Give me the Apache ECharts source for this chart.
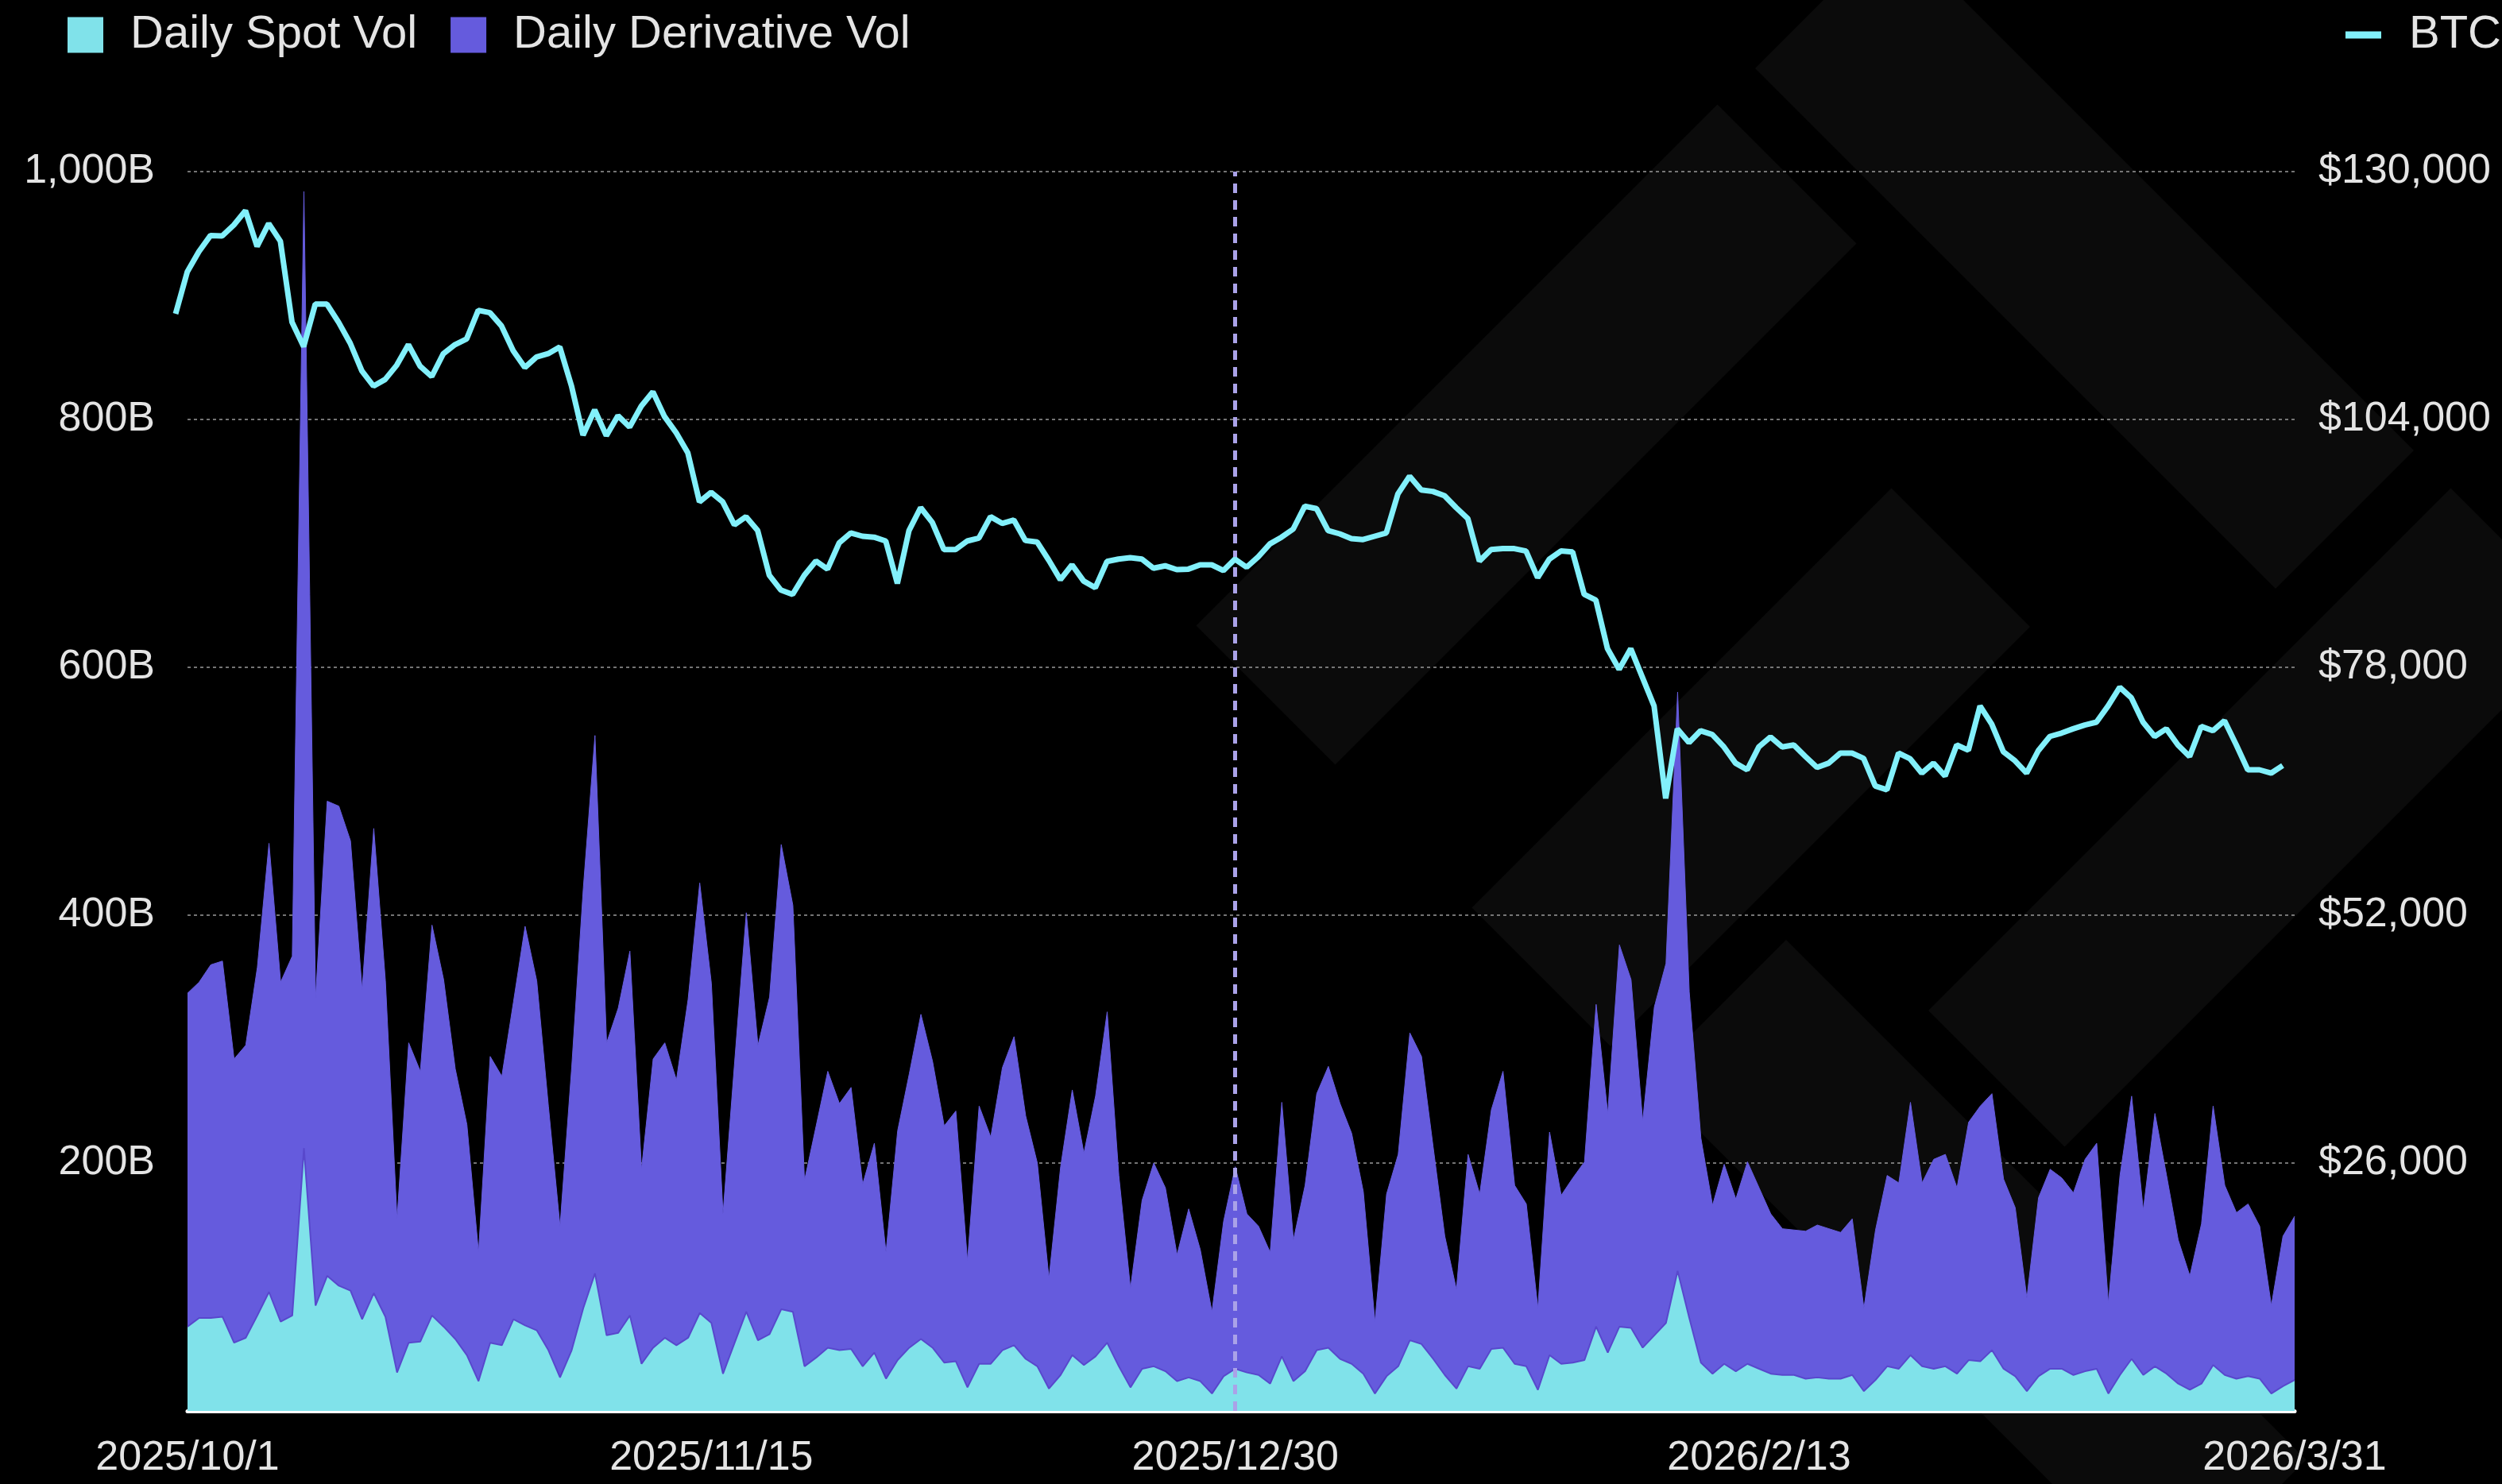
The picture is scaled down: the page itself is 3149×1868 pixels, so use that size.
<!DOCTYPE html>
<html>
<head>
<meta charset="utf-8">
<script src="https://cdn.jsdelivr.net/npm/echarts@6.0.0/dist/echarts.min.js"></script>
<style>
  html, body { margin: 0; padding: 0; background: #000; }
  #chart { width: 3149px; height: 1868px; }
</style>
</head>
<body>
<div id="chart"></div>
<script>
// daily volume in billions, one value per day from 2025/10/1 to 2026/3/31
const volStart = '2025/10/1';
const spotVol = [
  68, 75, 75, 76, 55, 59, 77, 96, 72, 77,
  212, 85, 109, 101, 97, 74, 95, 76, 31, 55,
  56, 77, 68, 58, 45, 24, 55, 53, 74, 69,
  65, 49, 27, 49, 83, 111, 61, 63, 77, 38,
  51, 59, 53, 59, 79, 71, 30, 55, 80, 57,
  62, 82, 80, 36, 43, 51, 49, 50, 36, 47,
  26, 41, 51, 58, 51, 39, 40, 19, 38, 38,
  49, 53, 42, 36, 18, 29, 45, 37, 44, 55,
  36, 19, 34, 36, 32, 24, 27, 24, 14, 28,
  34, 31, 29, 22, 44, 24, 32, 49, 51, 42,
  38, 30, 14, 28, 36, 57, 54, 42, 29, 18,
  36, 34, 50, 51, 38, 36, 17, 45, 38, 39,
  41, 68, 47, 68, 67, 51, 61, 71, 113, 75,
  39, 30, 38, 32, 38, 34, 30, 29, 29, 26,
  27, 26, 26, 29, 16, 25, 36, 34, 45, 36,
  34, 36, 30, 41, 40, 49, 34, 28, 16, 28,
  34, 34, 29, 32, 34, 14, 29, 42, 29, 36,
  30, 22, 17, 22, 37, 29, 26, 28, 26, 14,
  20, 25
];
const derivVol = [
  269, 271, 285, 287, 229, 236, 281, 362, 274, 290,
  772, 248, 383, 387, 363, 266, 375, 271, 124, 242,
  218, 315, 280, 218, 186, 104, 231, 217, 256, 322,
  282, 197, 122, 228, 339, 434, 236, 262, 294, 157,
  233, 238, 214, 273, 347, 274, 129, 227, 322, 238,
  272, 375, 328, 150, 187, 223, 199, 211, 147, 169,
  102, 185, 221, 262, 231, 191, 202, 102, 208, 183,
  228, 249, 196, 164, 89, 168, 214, 171, 210, 267,
  154, 80, 136, 164, 148, 102, 136, 106, 66, 125,
  163, 128, 120, 106, 205, 114, 150, 207, 227, 206,
  186, 147, 58, 147, 171, 248, 232, 171, 112, 80,
  171, 141, 193, 223, 144, 131, 66, 180, 136, 149,
  160, 260, 193, 308, 281, 183, 265, 290, 467, 263,
  181, 136, 161, 139, 163, 146, 129, 118, 117, 119,
  123, 121, 118, 126, 67, 121, 154, 150, 204, 148,
  169, 171, 150, 192, 206, 207, 153, 136, 75, 144,
  161, 154, 147, 171, 182, 73, 161, 212, 133, 204,
  160, 116, 92, 129, 209, 153, 134, 139, 123, 71,
  121, 132
];

// BTC daily close, one value per day from 2025/9/30 to 2026/3/30
const btcStart = '2025/9/30';
const btcPrice = [
  115080, 119470, 121600, 123300, 123250, 124400, 125900, 122150, 124550, 122700,
  114200, 111650, 116100, 116100, 114200, 112000, 109100, 107500, 108200, 109700,
  111850, 109600, 108500, 110900, 111850, 112450, 115450, 115200, 113800, 111200,
  109450, 110550, 110900, 111600, 107550, 102350, 105000, 102300, 104400, 103200,
  105400, 106900, 104300, 102600, 100500, 95350, 96350, 95350, 92950, 93800,
  92350, 87650, 86100, 85650, 87650, 89150, 88300, 91050, 92100, 91750,
  91650, 91250, 86800, 92350, 94750, 93200, 90350, 90350, 91250, 91550,
  93800, 93100, 93450, 91300, 91150, 89250, 87200, 88750, 87050, 86350,
  89100, 89350, 89500, 89350, 88400, 88650, 88250, 88300, 88750, 88750,
  88150, 89350, 88500, 89600, 90950, 91650, 92500, 94900, 94650, 92350,
  92000, 91500, 91400, 91750, 92100, 96200, 98050, 96600, 96450, 96000,
  94750, 93600, 89150, 90350, 90450, 90450, 90200, 87400, 89350, 90200,
  90100, 85650, 85050, 79950, 77800, 79950, 76950, 73950, 64250, 71550,
  70100, 71350, 70950, 69650, 67950, 67250, 69650, 70700, 69650, 69850,
  68650, 67500, 67950, 69000, 69000, 68450, 65550, 65150, 69000, 68400,
  66900, 67950, 66600, 69850, 69300, 73950, 72050, 69150, 68200, 66900,
  69250, 70750, 71100, 71550, 71950, 72250, 73950, 75900, 74800, 72250,
  70750, 71550, 69850, 68650, 71800, 71350, 72400, 69900, 67250, 67250,
  66900, 67700
];

const xLabels = ['2025/10/1', '2025/11/15', '2025/12/30', '2026/2/13', '2026/3/31'];
const markDate = '2025/12/30';

const DAY = 86400000;
function dateList(start, n) {
  const p = start.split('/').map(Number);
  const t = Date.UTC(p[0], p[1] - 1, p[2]);
  const out = [];
  for (let i = 0; i < n; i++) {
    const d = new Date(t + i * DAY);
    out.push(d.getUTCFullYear() + '/' + (d.getUTCMonth() + 1) + '/' + d.getUTCDate());
  }
  return out;
}
const volDates = dateList(volStart, spotVol.length);
const btcDates = dateList(btcStart, btcPrice.length);

// faint logo watermark, bands at 45 degrees (u = x + y, v = x - y)
function band(u1, u2, v1, v2) {
  return {
    type: 'polygon', silent: true, z: -100,
    shape: { points: [
      [(u1 + v1) / 2, (u1 - v1) / 2], [(u1 + v2) / 2, (u1 - v2) / 2],
      [(u2 + v2) / 2, (u2 - v2) / 2], [(u2 + v1) / 2, (u2 - v1) / 2]
    ] },
    style: { fill: '#0b0b0b' }
  };
}

const FONT = 'Liberation Sans, Arial, sans-serif';
const TXT = '#e4e4e4';

const chart = echarts.init(document.getElementById('chart'));
chart.setOption({
  backgroundColor: '#000',
  animation: false,
  textStyle: { fontFamily: FONT },
  graphic: { elements: [
    band(2295, 3605, 2123, 2471),
    band(2293, 2643, 718, 2030),
    band(2995, 3344, 710, 1766),
    band(3431, 4740, 715, 1065),
    band(3699, 4042, 1155, 2470)
  ] },
  legend: [
    {
      data: ['Daily Spot Vol', 'Daily Derivative Vol'],
      left: 80, top: 10,
      icon: 'rect', itemWidth: 45, itemHeight: 45, itemGap: 42,
      textStyle: { color: TXT, fontSize: 58, fontFamily: FONT, padding: [0, 0, 0, 29] }
    },
    {
      data: ['BTC'],
      left: 2947, top: 10,
      icon: 'rect', itemWidth: 45, itemHeight: 9,
      textStyle: { color: TXT, fontSize: 58, fontFamily: FONT, padding: [0, 0, 0, 30] }
    }
  ],
  // volumes on grid 0; BTC on grid 1, which is shifted one day to the left
  grid: [
    { left: 236, right: 261, top: 216, bottom: 92 },
    { left: 221, right: 276, top: 216, bottom: 92 }
  ],
  xAxis: [
    {
      type: 'category', data: volDates, boundaryGap: false,
      axisLine: { show: true, onZero: false, lineStyle: { color: '#fff', width: 5 } },
      axisTick: { show: false },
      splitLine: { show: false },
      axisLabel: {
        interval: (idx, val) => xLabels.indexOf(val) >= 0,
        color: TXT, fontSize: 52, margin: 34
      }
    },
    { type: 'category', gridIndex: 1, data: btcDates, boundaryGap: false, show: false }
  ],
  yAxis: [
    {
      type: 'value', min: 0, max: 1000, interval: 200,
      axisLine: { show: false }, axisTick: { show: false },
      splitLine: { lineStyle: { color: '#9a9a9a', type: [4, 4], width: 1.5 } },
      axisLabel: {
        formatter: v => v === 0 ? '' : v.toLocaleString('en-US') + 'B',
        color: TXT, fontSize: 52, margin: 41
      }
    },
    {
      type: 'value', gridIndex: 1, min: 0, max: 130000, interval: 26000, position: 'right',
      axisLine: { show: false }, axisTick: { show: false },
      splitLine: { show: false },
      axisLabel: {
        formatter: v => v === 0 ? '' : '$' + v.toLocaleString('en-US'),
        color: TXT, fontSize: 52, margin: 45
      }
    }
  ],
  series: [
    {
      name: 'Daily Spot Vol', type: 'line', stack: 'vol',
      data: spotVol, symbol: 'none',
      itemStyle: { color: '#80e2ea' },
      lineStyle: { color: '#5848cc', width: 2 },
      areaStyle: { color: '#80e2ea', opacity: 1 }
    },
    {
      name: 'Daily Derivative Vol', type: 'line', stack: 'vol',
      data: derivVol, symbol: 'none',
      itemStyle: { color: '#655bdd' },
      lineStyle: { color: '#655bdd', width: 1 },
      areaStyle: { color: '#655bdd', opacity: 1 },
      markLine: {
        silent: true, symbol: ['none', 'none'],
        label: { show: false },
        lineStyle: { color: '#aaa2e8', type: [12, 9], width: 5, opacity: 1 },
        data: [{ xAxis: markDate }]
      }
    },
    {
      name: 'BTC', type: 'line', xAxisIndex: 1, yAxisIndex: 1,
      data: btcPrice, symbol: 'none', z: 5,
      itemStyle: { color: '#82f0fb' },
      lineStyle: { color: '#82f0fb', width: 7 }
    }
  ]
});
</script>
</body>
</html>
